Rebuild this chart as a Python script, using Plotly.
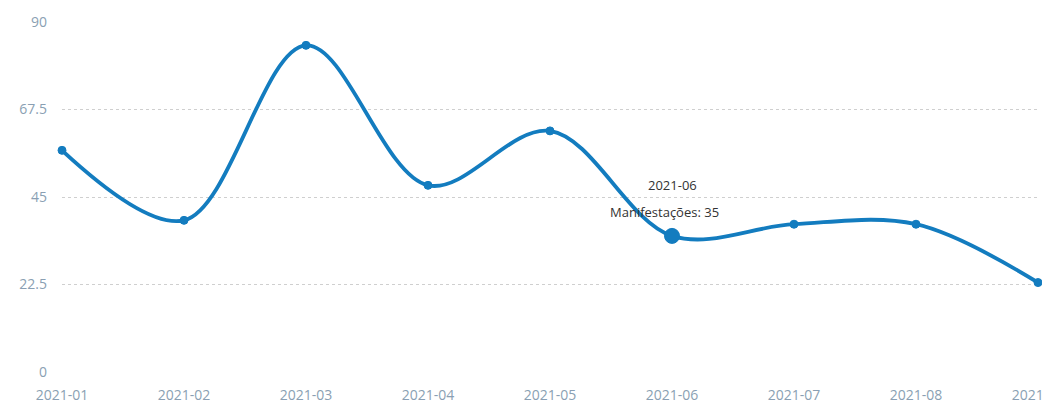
import plotly.graph_objects as go

months = ["2021-01", "2021-02", "2021-03", "2021-04", "2021-05",
          "2021-06", "2021-07", "2021-08", "2021-09"]
manifestacoes = [57, 39, 84, 48, 62, 35, 38, 38, 23]
y_ticks = [0, 22.5, 45, 67.5, 90]
y_tick_labels = ["0", "22.5", "45", "67.5", "90"]
highlight_index = 5

xs = list(range(len(months)))
line_color = "#137cbf"

fig = go.Figure()
fig.add_trace(go.Scatter(
    x=xs, y=manifestacoes, mode="lines+markers",
    line=dict(color=line_color, width=3.8, shape="spline", smoothing=1),
    marker=dict(color=line_color, opacity=1,
                size=[15 if i == highlight_index else 8 for i in xs],
                line=dict(color=line_color, width=1)),
    hoverinfo="skip", cliponaxis=False,
))

fig.add_annotation(x=xs[highlight_index], y=48.2, xref="x", yref="y",
                   text=months[highlight_index], showarrow=False,
                   font=dict(family="Open Sans", size=13, color="#333333"))
fig.add_annotation(x=xs[highlight_index] - 0.065, y=41.2, xref="x", yref="y",
                   text=f"Manifestações: {manifestacoes[highlight_index]}", showarrow=False,
                   font=dict(family="Open Sans", size=13, color="#333333"))

fig.update_layout(
    width=1042, height=403,
    margin=dict(l=62, r=4, t=22, b=31, autoexpand=False),
    paper_bgcolor="white", plot_bgcolor="white",
    showlegend=False,
    font=dict(family="Open Sans", size=13, color="#8a9fb3"),
)
fig.update_xaxes(
    range=[0, len(months) - 1], tickvals=xs, ticktext=months,
    showgrid=False, zeroline=False, showline=False,
    ticklabelstandoff=13, ticklabeloverflow="allow", automargin=False,
    tickfont=dict(size=14, color="#8a9fb3"),
)
fig.update_yaxes(
    range=[0, 90], tickvals=y_ticks, ticktext=y_tick_labels,
    showgrid=True, gridcolor="#cfcfcf", griddash="dot", gridwidth=1,
    zeroline=False, showline=False, automargin=False,
    ticklabelstandoff=14,
    tickfont=dict(size=14, color="#8a9fb3"),
)

fig.write_html("out.html",
               config={"displayModeBar": False},
               post_script="document.body.style.margin='0';document.body.style.overflow='hidden';")
